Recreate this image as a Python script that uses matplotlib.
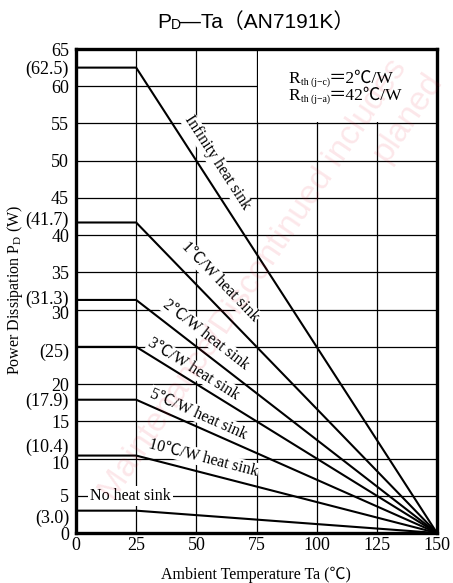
import numpy as np
import matplotlib
matplotlib.use("Agg")
import matplotlib.pyplot as plt
from matplotlib.transforms import ScaledTranslation
from matplotlib.patches import Rectangle

# ---------------- data ----------------
temps = [0, 25, 150]
pd_max = [62.5, 41.7, 31.3, 25.0, 17.9, 10.4, 3.0]
curve_labels = ["Infinity heat sink", "1℃/W heat sink", "2℃/W heat sink",
                "3℃/W heat sink", "5℃/W heat sink", "10℃/W heat sink",
                "No heat sink"]
x_ticks = [0, 25, 50, 75, 100, 125, 150]
y_ticks = [0, 3.0, 5, 10, 10.4, 15, 17.9, 20, 25, 30, 31.3, 35, 40, 41.7,
           45, 50, 55, 60, 62.5, 65]
y_tick_labels = ["0", "(3.0)", "5", "10", "(10.4)", "15", "(17.9)", "20",
                 "(25)", "30", "(31.3)", "35", "40", "(41.7)", "45", "50",
                 "55", "60", "(62.5)", "65"]
grid_x = [25, 50, 75, 100, 125]
grid_y = [5, 10, 15, 20, 25, 30, 35, 40, 45, 50, 55, 60]
rth_lines = [("th (j−c)", "＝2℃/W"), ("th (j−a)", "＝42℃/W")]

# label placement (data coords of label centres)
label_pos = [(58.6, 49.7), (59.8, 33.7), (54.0, 26.6), (49.0, 22.0),
             (50.7, 16.0), (52.8, 10.1), (5.8, 5.0)]

SERIF = ["Liberation Serif", "Noto Sans CJK JP", "DejaVu Serif"]
SANS = ["Liberation Sans", "Noto Sans CJK JP", "DejaVu Sans"]
plt.rcParams["font.family"] = SERIF
plt.rcParams["mathtext.fontset"] = "custom"
plt.rcParams["mathtext.rm"] = "Liberation Serif"

W, H, DPI = 453, 583, 100
fig = plt.figure(figsize=(W / DPI, H / DPI), dpi=DPI)
ax = fig.add_axes([76 / W, 1 - 533 / H, (437 - 76) / W, (533 - 49) / H])
ax.set_xlim(0, 150)
ax.set_ylim(0, 65)

# watermark (faint)
wm = dict(color="#e8102a", alpha=0.10, zorder=0.5, family="Liberation Sans")
fig.text(0.56, 0.52, "Maintenance/Discontinued includes", rotation=56,
         fontsize=24, ha="center", va="center", **wm)
fig.text(0.90, 0.80, "planed", rotation=56, fontsize=24, ha="center",
         va="center", **wm)

# grid
for gx in grid_x:
    ax.axvline(gx, color="black", lw=0.9, zorder=1)
for gy in grid_y:
    ax.axhline(gy, color="black", lw=0.9, zorder=1)

# white box for thermal resistance note
ax.add_patch(Rectangle((75.6, 55.2), 74.4, 9.8, facecolor="white",
                       edgecolor="none", zorder=1.5))

# curves
for p in pd_max:
    ax.plot(temps, [p, p, 0], color="black", lw=1.5, zorder=3,
            solid_joinstyle="miter")

# labels along lines
fig.canvas.draw()
for p, lab, (lx, ly) in zip(pd_max, curve_labels, label_pos):
    if lab == "No heat sink":
        ax.text(lx, ly, lab, fontsize=11.5, ha="left", va="center",
                zorder=2, bbox=dict(facecolor="white", edgecolor="none",
                                    pad=1.5))
        continue
    p0 = ax.transData.transform((temps[1], p))
    p1 = ax.transData.transform((temps[2], 0))
    ang = np.degrees(np.arctan2(p1[1] - p0[1], p1[0] - p0[0]))
    ax.text(lx, ly, lab, fontsize=11.5, ha="center", va="center",
            rotation=ang, rotation_mode="anchor", zorder=2,
            bbox=dict(facecolor="white", edgecolor="none", pad=0.5))

# thermal resistance note (pixel-based placement)
for i, (sub, rest) in enumerate(rth_lines):
    yb = 1 - (83 + 17 * i) / H
    fig.text(288 / W, yb, "R", fontsize=12.5, ha="left", va="baseline",
             zorder=2)
    fig.text(301 / W, yb - 2 / H, sub, fontsize=7, ha="left",
             va="baseline", zorder=2)
    fig.text(329 / W, yb, rest, fontsize=12.5, ha="left", va="baseline",
             zorder=2)

# ticks
ax.set_xticks(x_ticks)
ax.set_xticklabels([str(t) for t in x_ticks])
ax.set_yticks(y_ticks)
ax.set_yticklabels(y_tick_labels)
ax.tick_params(axis="both", length=0, labelsize=13)
ax.tick_params(axis="y", pad=5)
ax.tick_params(axis="x", pad=3)

shift_px = {"(10.4)": 10.5, "10": -3.5, "(3.0)": -6, "(31.3)": 3, "30": -3,
            "(25)": -3, "(41.7)": 4}
for lbl in ax.get_yticklabels():
    t = lbl.get_text()
    if t in shift_px:
        lbl.set_transform(lbl.get_transform() +
                          ScaledTranslation(0, shift_px[t] / DPI,
                                            fig.dpi_scale_trans))

for sp in ax.spines.values():
    sp.set_linewidth(2.4)
    sp.set_zorder(5)

# axis labels and title
fig.text(256 / W, 1 - 575 / H, "Ambient Temperature Ta (℃)", fontsize=11.5,
         ha="center", va="center")
fig.text(15 / W, 1 - 290 / H, r"Power Dissipation $\mathregular{P_D}$ (W)",
         fontsize=11.5, ha="center", va="center", rotation=90)
base = 1 - 28 / H
fig.text(157 / W, base, "P", fontsize=15, ha="left", va="baseline",
         family=SANS)
fig.text(171 / W, base - 1 / H, "D", fontsize=10, ha="left", va="baseline",
         family=SANS)
fig.text(180 / W, base, "—Ta（AN7191K）", fontsize=15, ha="left",
         va="baseline", family=SANS)

fig.savefig("out.png", dpi=DPI)
